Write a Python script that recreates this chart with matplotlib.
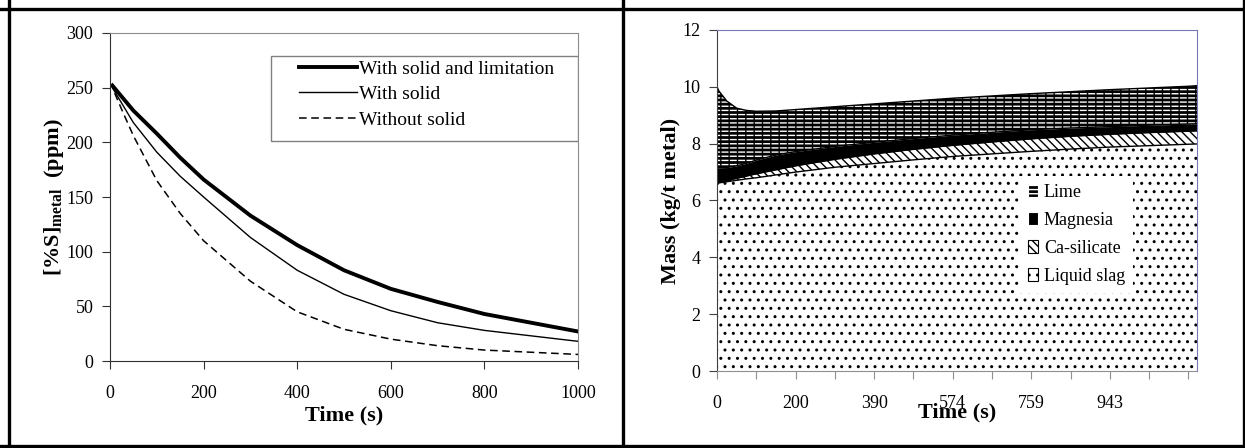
import numpy as np
import matplotlib
matplotlib.use("Agg")
import matplotlib.pyplot as plt
from matplotlib.lines import Line2D
from matplotlib.patches import Patch, Rectangle

plt.rcParams['font.family'] = ['Liberation Serif', 'DejaVu Serif']
plt.rcParams['mathtext.fontset'] = 'custom'
plt.rcParams['mathtext.rm'] = 'Liberation Serif'
plt.rcParams['mathtext.bf'] = 'Liberation Serif:bold'
plt.rcParams['hatch.linewidth'] = 1.0

# ---- left chart: sulphur in metal ----
time_s = [5, 50, 100, 150, 200, 300, 400, 500, 600, 700, 800, 900, 1000]
s_solid_limit = [252, 229, 208, 186, 166, 133, 106, 83, 66, 54, 43, 35, 27]
s_solid = [250, 218, 191, 169, 150, 113, 83, 61, 46, 35, 28, 23, 18]
time_nosolid = [10, 25, 50, 100, 150, 200, 300, 400, 500, 600, 700, 800, 900, 1000]
s_nosolid = [245, 230, 206, 165, 135, 110, 73, 45, 29, 20, 14, 10, 8, 6]

# ---- right chart: phase masses (category axis, one tick = one step) ----
cat_pos = [0, 0.05, 0.25, 0.5, 0.75, 1, 1.5, 2, 3, 4, 5, 6, 7, 8, 9, 10, 11, 12, 12.22]
liquid_slag = [6.55, 6.62, 6.66, 6.71, 6.76, 6.80, 6.90, 7.00, 7.17, 7.30, 7.43, 7.55,
               7.64, 7.73, 7.81, 7.88, 7.93, 7.98, 7.99]
ca_silicate = [0.00, 0.02, 0.04, 0.07, 0.10, 0.14, 0.18, 0.22, 0.28, 0.34, 0.37, 0.39,
               0.42, 0.44, 0.45, 0.45, 0.46, 0.46, 0.46]
magnesia = [0.60, 0.51, 0.46, 0.44, 0.45, 0.48, 0.52, 0.50, 0.45, 0.41, 0.38, 0.36,
            0.34, 0.32, 0.29, 0.27, 0.26, 0.25, 0.25]
lime = [2.85, 2.70, 2.34, 2.03, 1.86, 1.72, 1.55, 1.48, 1.40, 1.35, 1.32, 1.30,
        1.28, 1.27, 1.28, 1.30, 1.31, 1.33, 1.34]
time_labels = ['0', '200', '390', '574', '759', '943']

W, H = 1245, 448
fig = plt.figure(figsize=(W / 100, H / 100), dpi=100)


def px_axes(x0, y0, x1, y1):
    return fig.add_axes([x0 / W, 1 - y1 / H, (x1 - x0) / W, (y1 - y0) / H])


# table frame around both charts
for xs, ys in [([0, 1], [1 - 9.5 / H] * 2), ([0, 1], [2 / H] * 2),
               ([8.5 / W] * 2, [0, 1]), ([623 / W] * 2, [0, 1]), ([1 - 1.5 / W] * 2, [0, 1])]:
    fig.add_artist(Line2D(xs, ys, color='black', lw=2.4, transform=fig.transFigure))

# left chart
ax1 = px_axes(110, 33, 578, 361)
ax1.plot(time_s, s_solid_limit, color='black', lw=2.8, label='With solid and limitation')
ax1.plot(time_s, s_solid, color='black', lw=1.0, label='With solid')
ax1.plot(time_nosolid, s_nosolid, color='black', lw=1.1, dashes=(5, 3), label='Without solid')
ax1.set_xlim(0, 1000)
ax1.set_ylim(0, 300)
ax1.set_xticks(range(0, 1001, 200))
ax1.set_yticks(range(0, 301, 50))
for side in ['top', 'right']:
    ax1.spines[side].set_color('#8c8c8c')
for side in ['left', 'bottom']:
    ax1.spines[side].set_color('#303030')
ax1.tick_params(direction='out', length=6, color='#303030', labelsize=13)
ax1.tick_params(axis='x', pad=11)
ax1.tick_params(axis='y', pad=6)
ax1.set_xlabel('Time (s)', fontsize=16, fontweight='bold')
ax1.xaxis.set_label_coords(0.5, -0.135)
ax1.set_ylabel(r'[%S]$_{\mathbf{metal}}$  (ppm)', fontsize=16, fontweight='bold')
ax1.yaxis.set_label_coords(-0.095, 0.5)
ax1.add_patch(Rectangle((0.344, 0.671), 0.656, 0.259, transform=ax1.transAxes,
                        facecolor='white', edgecolor='#808080', lw=1.0, zorder=3))
leg1 = ax1.legend(loc='upper left', bbox_to_anchor=(0.404, 0.918), frameon=False,
                  fontsize=14, handlelength=3.0, handletextpad=0.1, labelspacing=0.42,
                  borderpad=0, borderaxespad=0)
leg1.set_zorder(4)

# right chart
ax2 = px_axes(717, 30, 1197, 371)
x = np.array(cat_pos)
layers = [
    (liquid_slag, 'Liquid slag', 'white', '..'),
    (ca_silicate, 'Ca-silicate', 'white', '\\\\\\\\'),
    (magnesia, 'Magnesia', 'black', None),
    (lime, 'Lime', 'black', '----'),
]
base = np.zeros(len(x))
handles = []
for vals, name, face, hatch in layers:
    top = base + np.array(vals)
    hatch_col = 'white' if face == 'black' else 'black'
    ax2.fill_between(x, base, top, facecolor=face, hatch=hatch, edgecolor=hatch_col, lw=0)
    if name == 'Lime':
        # black cuts that break the white stripes into dashes
        ax2.fill_between(x, base, top, facecolor='none', hatch='||', edgecolor='black', lw=0)
    ax2.plot(x, top, color='black', lw=1.0)
    handles.append(Patch(facecolor=face, hatch=hatch, edgecolor=hatch_col if face == 'black' else 'black',
                         lw=0.8, label=name))
    base = top
ax2.set_xlim(0, 12.22)
ax2.set_ylim(0, 12)
ax2.set_yticks(range(0, 13, 2))
ax2.set_xticks(range(0, 13))
ax2.set_xticklabels([time_labels[i // 2] if i % 2 == 0 and i // 2 < len(time_labels) else ''
                     for i in range(13)])
for side in ['top', 'right']:
    ax2.spines[side].set_color('#7878b4')
ax2.spines['left'].set_color('#404040')
ax2.spines['bottom'].set_color('#909090')
ax2.tick_params(direction='out', length=6, labelsize=13)
ax2.tick_params(axis='x', color='#909090', pad=11)
ax2.tick_params(axis='y', color='#404040', pad=6)
ax2.set_xlabel('Time (s)', fontsize=16, fontweight='bold')
ax2.xaxis.set_label_coords(0.5, -0.092)
ax2.set_ylabel('Mass (kg/t metal)', fontsize=16, fontweight='bold')
ax2.yaxis.set_label_coords(-0.075, 0.5)
leg2 = ax2.legend(handles=handles[::-1], loc='upper left', bbox_to_anchor=(0.63, 0.572),
                  frameon=True, facecolor='white', edgecolor='none', framealpha=1,
                  fancybox=False, fontsize=13, handlelength=0.6, handleheight=0.75,
                  handletextpad=0.3, labelspacing=0.6, borderpad=0.45, borderaxespad=0)
leg2.set_zorder(5)

fig.savefig('out.png', dpi=100)
